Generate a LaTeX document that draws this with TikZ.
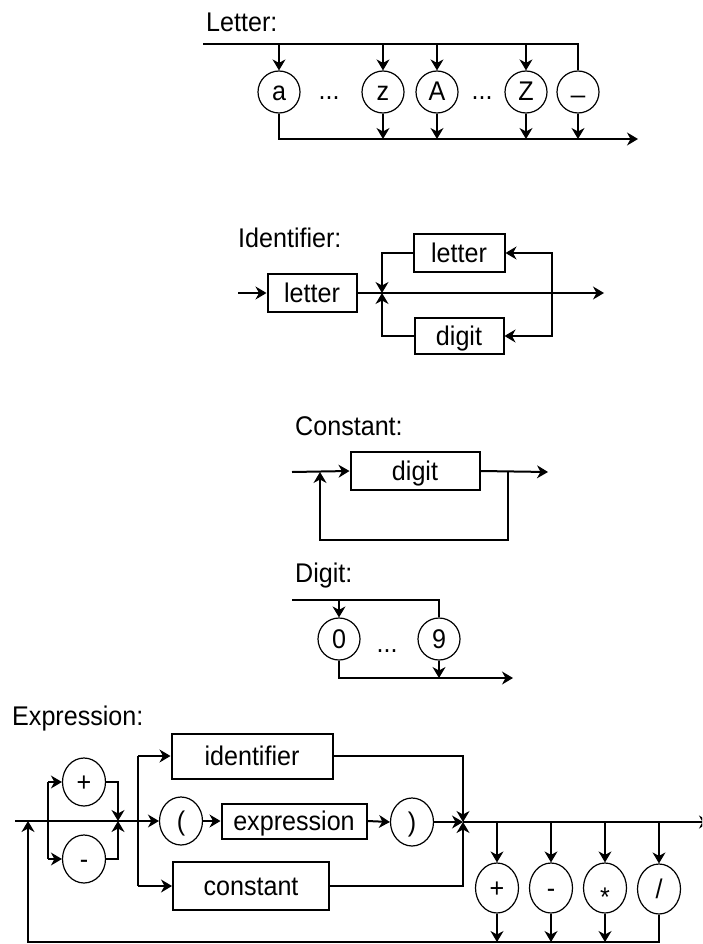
\documentclass[tikz,border=0pt]{standalone}
\usepackage{fontspec}
\setmainfont{Liberation Sans}[FakeStretch=0.93]
\usetikzlibrary{arrows.meta,shapes.geometric}
\newcommand\lblfont{\fontsize{27}{32}\selectfont}
\tikzset{
  wire/.style={line width=2pt},
  arr/.style={wire,-{Stealth[length=11pt,width=13pt,inset=3.5pt,line width=1.2pt,fill=black]}},
  lbl/.style={font=\lblfont,text height=22pt,text depth=4pt,inner sep=0pt},
  box/.style={lbl,draw,line width=2pt},
  circ/.style={lbl,draw,circle,line width=1.2pt,minimum size=42pt},
  oval/.style={lbl,draw,ellipse,line width=1.2pt,minimum width=43pt,minimum height=48pt},
  title/.style={anchor=base west,inner sep=0pt,font=\lblfont},
  dots/.style={anchor=base,inner sep=0pt,font=\lblfont},
}
\begin{document}
\begin{tikzpicture}[x=1pt,y=-1pt]
\fill[white] (0,0) rectangle (702,944);
\useasboundingbox (0,0) rectangle (702,944);
\clip (0,0) rectangle (702,944);

% ---------- Letter ----------
\node[title] (tLetter) at (206,32) {Letter:};
\coordinate (lS) at (203,44);
\coordinate (lE) at (638,139);
\node[circ] (ca) at (279,92) {a};
\node[circ] (cz) at (383,92) {z};
\node[circ] (cA) at (437,92) {A};
\node[circ] (cZ) at (526,92) {Z};
\node[circ] (cu) at (578,92) {\raisebox{8pt}{\_}};
\node[dots] (ld1) at (329,100) {...};
\node[dots] (ld2) at (482,100) {...};
\draw[wire] (lS) -| (cu.north);
\foreach \n in {ca,cz,cA,cZ} \draw[arr] (\n.north |- lS) -- (\n.north);
\draw[arr] (ca.south) |- (lE);
\foreach \n in {cz,cA,cZ,cu} \draw[arr] (\n.south) -- (\n.south |- lE);

% ---------- Identifier ----------
\node[title] (tIdent) at (238,247) {Identifier:};
\coordinate (iS) at (238,293);
\coordinate (iJ) at (382,293);
\coordinate (iR) at (552,293);
\coordinate (iE) at (604,293);
\node[box,minimum width=89pt,minimum height=38pt] (iL1) at (312,293) {letter};
\node[box,minimum width=91pt,minimum height=38pt] (iL2) at (459,253) {letter};
\node[box,minimum width=89pt,minimum height=36pt] (iD) at (459,336) {digit};
\draw[arr] (iS) -- (iL1.west);
\draw[arr] (iL1.east) -- (iE);
\draw[arr] (iL2.west) -| (iJ);
\draw[arr] (iD.west) -| (iJ);
\draw[arr] (iR) |- (iL2.east);
\draw[arr] (iR) |- (iD.east);

% ---------- Constant ----------
\node[title] (tConst) at (295,435) {Constant:};
\coordinate (cS) at (292,472);
\coordinate (cE) at (548,472);
\coordinate (cB) at (508,472);
\coordinate (cBL) at (320,540);
\coordinate (cJ) at (320,472);
\node[box,minimum width=129pt,minimum height=38pt] (cD) at (415,471) {digit};
\draw[arr] (cS) -- (cD.west);
\draw[arr] (cD.east) -- (cE);
\draw[arr] (cB) |- (cBL) -- (cJ);

% ---------- Digit ----------
\node[title] (tDigit) at (295,582) {Digit:};
\coordinate (dS) at (292,600);
\coordinate (dE) at (513,678);
\node[circ] (d0) at (339,639) {0};
\node[circ] (d9) at (439,639) {9};
\node[dots] (dd) at (387,652) {...};
\draw[wire] (dS) -| (d9.north);
\draw[arr] (d0.north |- dS) -- (d0.north);
\draw[arr] (d0.south) |- (dE);
\draw[arr] (d9.south) -- (d9.south |- dE);

% ---------- Expression ----------
\node[title] (tExpr) at (12,725) {Expression:};
\coordinate (eS) at (15,821);
\coordinate (eF) at (28,821);
\coordinate (eFB) at (28,942);
\coordinate (eL) at (48,821);
\coordinate (eJ1) at (118,821);
\coordinate (eB) at (138,821);
\coordinate (eJ2) at (463,822);
\coordinate (eE) at (710,822);
\node[oval] (ePlus) at (84,782) {+};
\node[oval] (eMinus) at (84,859) {-};
\node[box,minimum width=161pt,minimum height=45pt] (eId) at (252,756) {identifier};
\node[box,minimum width=156pt,minimum height=48pt] (eCon) at (251,886) {constant};
\node[oval] (eLp) at (181,821) {(};
\node[box,minimum width=145pt,minimum height=35pt] (eEx) at (294,821) {expression};
\node[oval] (eRp) at (412,822) {)};
\node[oval,minimum height=50pt] (oP) at (497,888) {+};
\node[oval,minimum height=50pt] (oM) at (551,888) {-};
\node[oval,minimum height=50pt] (oT) at (605,888) {\raisebox{-9pt}{*}};
\node[oval,minimum height=50pt] (oD) at (659,889) {/};

% optional sign
\draw[arr] (ePlus.west -| eL) -- (ePlus.west);
\draw[arr] (eMinus.west -| eL) -- (eMinus.west);
\draw[wire] (ePlus.west -| eL) -- (eMinus.west -| eL);
\draw[arr] (ePlus.east) -| (eJ1);
\draw[arr] (eMinus.east) -| (eJ1);
% primary alternatives
\draw[arr] (eS) -- (eLp.west);
\draw[wire] (eId.west -| eB) -- (eCon.west -| eB);
\draw[arr] (eId.west -| eB) -- (eId.west);
\draw[arr] (eCon.west -| eB) -- (eCon.west);
\draw[arr] (eLp.east) -- (eEx.west);
\draw[arr] (eEx.east) -- (eRp.west);
\draw[arr] (eRp.east) -- (eJ2);
\draw[arr] (eId.east) -| (eJ2);
\draw[arr] (eCon.east) -| (eJ2);
\draw[arr] (eJ2) -- (eE);
% operators and loop back
\foreach \n in {oP,oM,oT,oD} \draw[arr] (\n.north |- eJ2) -- (\n.north);
\foreach \n in {oP,oM,oT} \draw[arr] (\n.south) -- (\n.south |- eFB);
\draw[arr] (oD.south) |- (eFB) -- (eF);
\end{tikzpicture}
\end{document}
